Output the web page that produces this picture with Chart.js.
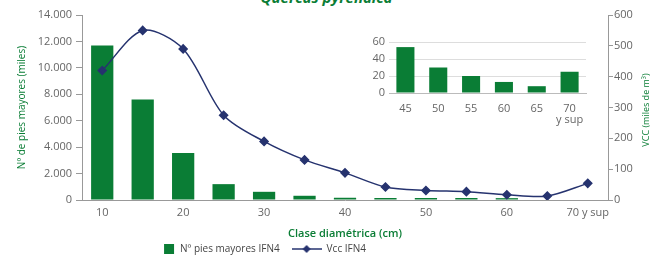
<!DOCTYPE html>
<html>
<head>
<meta charset="utf-8">
<script src="https://cdn.jsdelivr.net/npm/chart.js@4"></script>
<style>
  html, body { margin: 0; padding: 0; background: #fff; }
  #wrap { position: relative; width: 653px; height: 257px; overflow: hidden; }
  #titulo { position: absolute; left: 0; width: 653px; top: -13px; text-align: center;
            font: italic bold 15px "Open Sans", sans-serif; color: #0a7d35; }
  #main { position: absolute; left: 0; top: 0; }
  #inset { position: absolute; left: 360px; top: 28px; }
</style>
</head>
<body>
<div id="wrap">
  <div id="titulo">Quercus pyrenaica</div>
  <canvas id="main" width="653" height="257"></canvas>
  <canvas id="inset" width="230" height="100"></canvas>
</div>
<script>
// datos
const clases = ['10', '15', '20', '25', '30', '35', '40', '45', '50', '55', '60', '65', '70 y sup'];
const piesMayores = [11700, 7600, 3550, 1200, 620, 320, 170, 150, 150, 150, 140, 0, 0];
const vcc = [420, 550, 490, 275, 190, 130, 88, 42, 31, 27, 17, 13, 54];
const piesTicks = [0, 2000, 4000, 6000, 8000, 10000, 12000, 14000];

const clasesInset = ['45', '50', '55', '60', '65', ['70', 'y sup']];
const piesInset = [54, 30, 20, 13, 8, 25];

const verde = '#0a7d35';
const azul = '#26336f';
const gris = '#666';
const fuente = '"Open Sans", sans-serif';

document.addEventListener("DOMContentLoaded", () => {

    /* iconos de leyenda */
    const icono = document.createElement('canvas');
    icono.width = 30; icono.height = 10;
    const ic = icono.getContext('2d');
    ic.strokeStyle = azul; ic.lineWidth = 1.5;
    ic.beginPath(); ic.moveTo(0, 5); ic.lineTo(30, 5); ic.stroke();
    ic.fillStyle = azul;
    ic.beginPath(); ic.moveTo(15, 1); ic.lineTo(19, 5); ic.lineTo(15, 9); ic.lineTo(11, 5); ic.closePath(); ic.fill();

    const cuadro = document.createElement('canvas');
    cuadro.width = 30; cuadro.height = 10;
    const cc = cuadro.getContext('2d');
    cc.fillStyle = verde;
    cc.fillRect(19, 0, 10, 10);

    // titulo del eje derecho (leido de abajo arriba) + leyenda colocada a mano
    const extras = {
        id: 'extras',
        afterLayout(chart) {
            const lg = chart.legend;
            const h = lg.bottom - lg.top;
            lg.left -= 71;
            lg.right -= 71;
            lg.top = 232;
            lg.bottom = 232 + h;
            chart.scales.x.bottom += 3;
        },
        afterDraw(chart) {
            const c = chart.ctx;
            c.save();
            c.translate(646, 110);
            c.rotate(-Math.PI / 2);
            c.fillStyle = verde;
            c.font = '9px ' + fuente;
            c.textAlign = 'center';
            c.textBaseline = 'middle';
            c.fillText('VCC (miles de m³)', 0, 0);
            c.restore();
        }
    };

    new Chart(document.getElementById('main'), {
        data: {
            labels: clases,
            datasets: [{
                type: 'line',
                label: 'Vcc IFN4',
                data: vcc,
                yAxisID: 'y2',
                borderColor: azul,
                backgroundColor: azul,
                borderWidth: 1.5,
                tension: 0.3,
                pointStyle: 'rectRot',
                pointRadius: 4,
                order: 0
            }, {
                type: 'bar',
                label: 'Nº pies mayores IFN4',
                data: piesMayores,
                yAxisID: 'y',
                backgroundColor: verde,
                barPercentage: 0.55,
                categoryPercentage: 1,
                order: 1
            }]
        },
        options: {
            responsive: false,
            animation: false,
            layout: { padding: { top: 15, right: 0, left: 0, bottom: -12 } },
            plugins: {
                tooltip: { enabled: false },
                legend: {
                    position: 'bottom',
                    reverse: true,
                    labels: {
                        usePointStyle: true,
                        pointStyleWidth: 30,
                        padding: 12,
                        boxHeight: 10,
                        color: '#444',
                        font: { family: fuente, size: 10 },
                        generateLabels(chart) {
                            const l = Chart.defaults.plugins.legend.labels.generateLabels(chart);
                            l.forEach(it => {
                                it.pointStyle = it.text === 'Vcc IFN4' ? icono : cuadro;
                            });
                            return l;
                        }
                    }
                }
            },
            scales: {
                x: {
                    offset: true,
                    grid: { display: false, drawTicks: false },
                    border: { color: '#999' },
                    ticks: { color: gris, font: { family: fuente, size: 11 }, maxRotation: 0, padding: 6 },
                    title: { display: true, text: 'Clase diamétrica (cm)', color: verde,
                             font: { family: fuente, size: 11, weight: '600' }, padding: { top: 4, bottom: 0 } },
                    afterFit(s) { s.height = 37; }
                },
                y: {
                    position: 'left',
                    min: 0, max: 14000,
                    afterBuildTicks(s) { s.ticks = piesTicks.map(v => ({ value: v })); },
                    grid: { drawOnChartArea: false, tickLength: 6, color: '#999' },
                    border: { color: '#999' },
                    ticks: { color: gris, font: { family: fuente, size: 11 }, padding: 4,
                             callback: v => v.toLocaleString('de-DE') },
                    title: { display: true, text: 'Nº de pies mayores (miles)', color: verde,
                             font: { family: fuente, size: 10 }, padding: { top: 16, bottom: 0 } },
                    afterFit(s) { s.width = 82; }
                },
                y2: {
                    position: 'right',
                    min: 0, max: 600,
                    ticks: { stepSize: 100, color: gris, font: { family: fuente, size: 11 }, padding: 1 },
                    grid: { drawOnChartArea: false, tickLength: 5, color: '#999' },
                    border: { color: '#999' },
                    afterFit(s) { s.width = 45; }
                }
            }
        },
        plugins: [extras]
    });

    /* grafico pequeño 45 - 70 y sup */
    new Chart(document.getElementById('inset'), {
        type: 'bar',
        data: {
            labels: clasesInset,
            datasets: [{
                data: piesInset,
                backgroundColor: verde,
                barPercentage: 0.55,
                categoryPercentage: 1
            }]
        },
        options: {
            responsive: false,
            animation: false,
            layout: { padding: { top: 14, right: 4 } },
            plugins: { legend: { display: false }, tooltip: { enabled: false } },
            scales: {
                x: {
                    grid: { display: false },
                    border: { color: '#bbb' },
                    ticks: { color: gris, font: { family: fuente, size: 11, lineHeight: 1 }, maxRotation: 0, padding: 2 },
                    afterFit(s) { s.height = 35; }
                },
                y: {
                    min: 0, max: 60,
                    ticks: { stepSize: 20, autoSkip: false, color: gris, font: { family: fuente, size: 11 }, padding: 4 },
                    grid: { color: '#ddd', drawTicks: false },
                    border: { display: false },
                    afterFit(s) { s.width = 29; }
                }
            }
        }
    });
});
</script>
</body>
</html>
